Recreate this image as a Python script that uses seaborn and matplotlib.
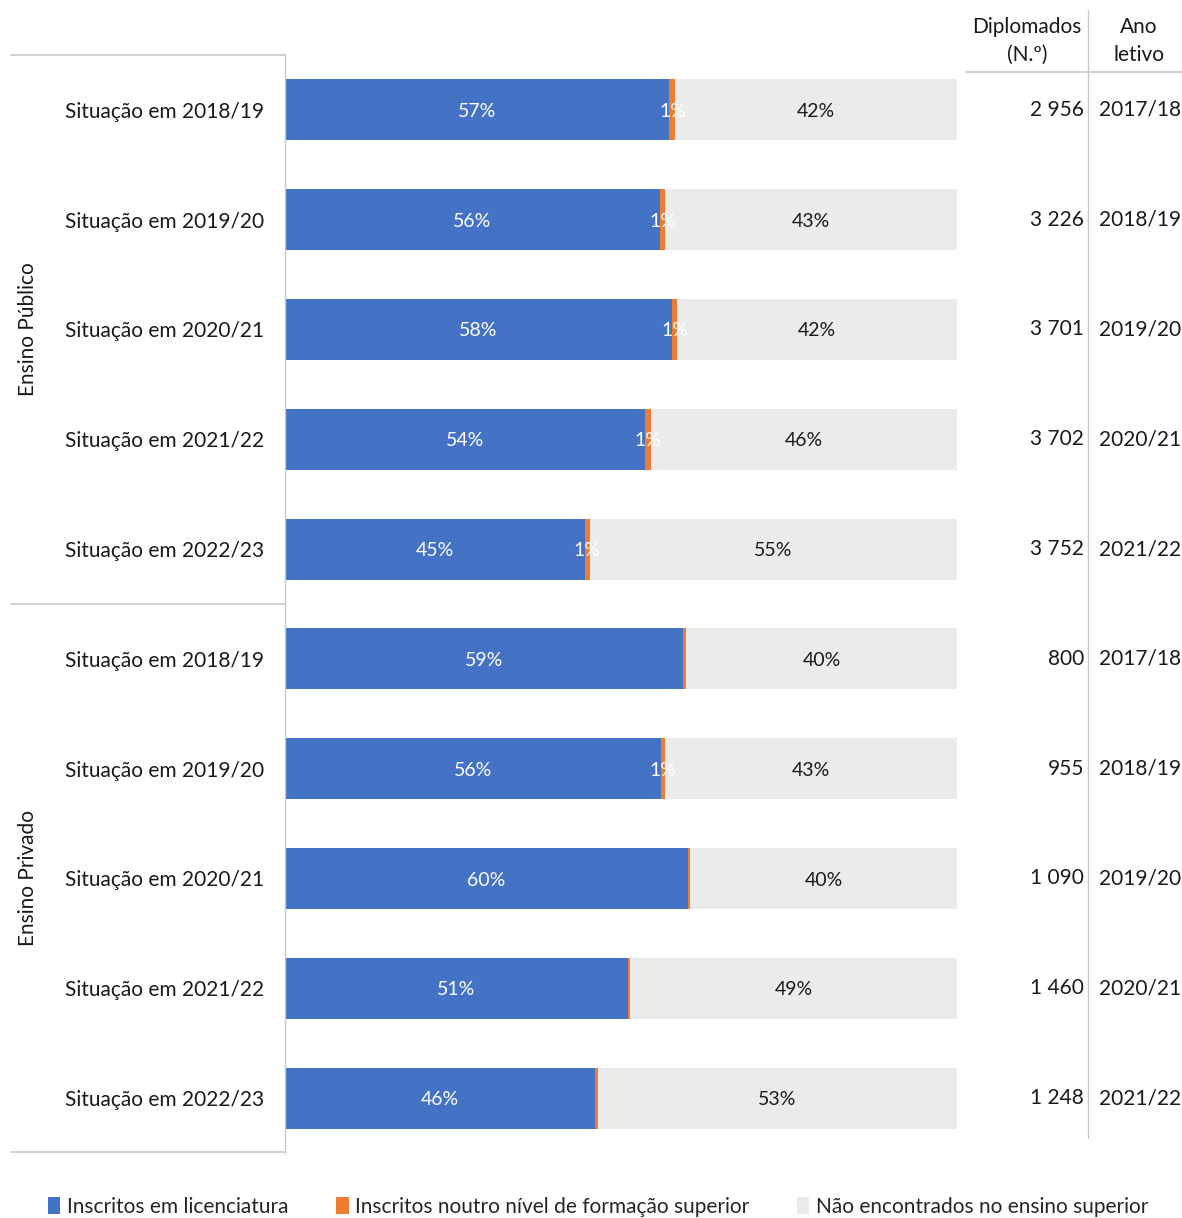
import numpy as np
import pandas as pd
import seaborn as sns
import matplotlib.pyplot as plt
import matplotlib.transforms as mtransforms
from matplotlib.lines import Line2D
from matplotlib.patches import Patch

# data
grupos = ["Ensino Público", "Ensino Privado"]
situacao = ["Situação em 2018/19", "Situação em 2019/20", "Situação em 2020/21",
            "Situação em 2021/22", "Situação em 2022/23"] * 2
licenciatura = [57.2, 55.8, 57.6, 53.6, 44.6, 59.3, 56.0, 60.0, 51.0, 46.2]
outro_nivel = [0.9, 0.8, 0.8, 0.8, 0.8, 0.4, 0.6, 0.3, 0.4, 0.4]
nao_encontrados = [41.9, 43.4, 41.6, 45.6, 54.6, 40.3, 43.4, 39.7, 48.6, 53.4]
diplomados = [2956, 3226, 3701, 3702, 3752, 800, 955, 1090, 1460, 1248]
ano_letivo = ["2017/18", "2018/19", "2019/20", "2020/21", "2021/22"] * 2
series = ["Inscritos em licenciatura", "Inscritos noutro nível de formação superior",
          "Não encontrados no ensino superior"]
cores = ["#4472C4", "#ED7D31", "#EBEBEB"]

sns.set_style("white")
plt.rcParams['font.family'] = ['Lato', 'DejaVu Sans']

W, H = 1182, 1218
fs = 15
txt = "#1a1a1a"
fig = plt.figure(figsize=(W / 100, H / 100), dpi=100)
ax = fig.add_axes([285 / W, 1 - 1153 / H, (957 - 285) / W, (1153 - 55) / H])

df = pd.DataFrame({
    "row": [str(i) for i in range(len(situacao))],
    "lic": licenciatura,
    "out": outro_nivel,
    "nao": nao_encontrados,
})
df["c1"] = df["lic"]
df["c2"] = df["lic"] + df["out"]
df["c3"] = df["c2"] + df["nao"]

# stacked bars drawn back to front
bw = 0.555
for col, cor in zip(["c3", "c2", "c1"], cores[::-1]):
    sns.barplot(data=df, x=col, y="row", color=cor, width=bw, ax=ax,
                saturation=1, orient="h", linewidth=0)

ax.set_xlim(0, 100)
ax.set_ylim(len(df) - 0.5, -0.5)
ax.set_xlabel("")
ax.set_ylabel("")
ax.set_xticks([])
ax.set_yticks(range(len(df)))
ax.set_yticklabels(situacao, fontsize=fs, color=txt)
ax.tick_params(axis="y", length=0, pad=15)
for s in ["top", "right", "bottom"]:
    ax.spines[s].set_visible(False)
ax.spines["left"].set_color("#c8c8c8")
ax.spines["left"].set_linewidth(1)

# segment labels
for i, r in df.iterrows():
    ax.text(r["lic"] / 2, i, f"{r['lic']:.0f}%", ha="center", va="center_baseline",
            color="white", fontsize=14)
    if round(r["out"]) >= 1:
        ax.text(r["lic"] + r["out"] / 2, i, f"{r['out']:.0f}%", ha="center",
                va="center_baseline", color="white", fontsize=14)
    ax.text(r["c2"] + r["nao"] / 2, i, f"{r['nao']:.0f}%", ha="center",
            va="center_baseline", color=txt, fontsize=14)

# right-hand table
tr = mtransforms.blended_transform_factory(fig.transFigure, ax.transData)
for i in range(len(df)):
    n = f"{diplomados[i]:,}".replace(",", " ")
    ax.text(1084 / W, i, n, transform=tr, ha="right", va="center",
            fontsize=fs, color=txt)
    ax.text(1140 / W, i, ano_letivo[i], transform=tr, ha="center",
            va="center", fontsize=fs, color=txt)
fig.text(1027 / W, 1 - 41 / H, "Diplomados\n(N.º)", ha="center", va="center",
         fontsize=fs, color=txt, linespacing=1.45)
fig.text(1139 / W, 1 - 41 / H, "Ano\nletivo", ha="center", va="center",
         fontsize=fs, color=txt, linespacing=1.45)

gris = "#c8c8c8"
fig.add_artist(Line2D([1088 / W, 1088 / W], [1 - 10 / H, 1 - 1138 / H], color=gris, lw=1))
fig.add_artist(Line2D([966 / W, 1182 / W], [1 - 72 / H, 1 - 72 / H], color=gris, lw=1.2))

# left group frame
for yp in [55, 604, 1152]:
    fig.add_artist(Line2D([11 / W, 285 / W], [1 - yp / H, 1 - yp / H], color=gris, lw=1.2))
ymid = [np.mean([0, 4]), np.mean([5, 9])]
for g, yc in zip(grupos, ymid):
    ax.text(28 / W, yc, g, transform=tr, rotation=90, ha="center", va="center",
            fontsize=fs, color=txt)

# legend
handles = [Patch(facecolor=c, edgecolor="none") for c in cores]
fig.legend(handles, series, loc="center", bbox_to_anchor=(598 / W, 1 - 1207 / H),
           ncol=3, frameon=False, fontsize=fs, handlelength=0.6, handleheight=0.9,
           handletextpad=0.3, columnspacing=2.3)

fig.savefig("out.png", dpi=100)
